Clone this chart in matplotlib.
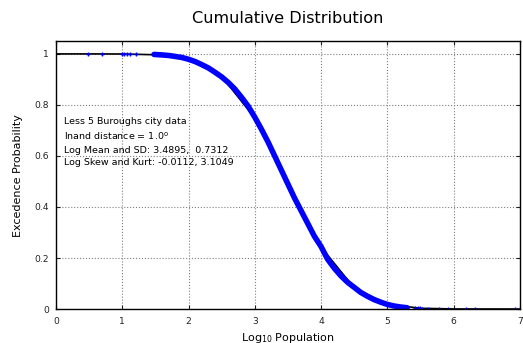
import matplotlib.pyplot as plt
from matplotlib.ticker import FuncFormatter

# empirical exceedance (read from picture)
# sparse points in the tails
tail_x = [0.48, 0.69, 0.99, 1.03, 1.07, 1.12, 1.21,
          5.42, 5.46, 5.49, 5.53, 5.61, 5.78, 5.91, 6.18, 6.33, 6.92]
tail_y = [1.0, 1.0, 1.0, 0.9995, 0.9995, 0.999, 0.999,
          0.003, 0.0028, 0.0025, 0.002, 0.0015, 0.001, 0.0008, 0.0005,
          0.0003, 0.0001]

# dense body
log_pop = [1.48, 1.6, 1.7, 1.8, 1.9, 2.0, 2.1, 2.2, 2.3, 2.4, 2.5, 2.6, 2.7,
           2.8, 2.9, 3.0, 3.1, 3.2, 3.3, 3.4, 3.5, 3.6, 3.7, 3.8, 3.9, 4.0,
           4.1, 4.2, 4.3, 4.4, 4.5, 4.6, 4.7, 4.8, 4.9, 5.0, 5.1, 5.2, 5.3]
exceed = [0.998, 0.996, 0.994, 0.99, 0.986, 0.979, 0.97, 0.958, 0.945, 0.928,
          0.91, 0.888, 0.862, 0.83, 0.795, 0.752, 0.705, 0.655, 0.6, 0.545,
          0.49, 0.435, 0.385, 0.335, 0.285, 0.245, 0.195, 0.16, 0.13, 0.105,
          0.085, 0.065, 0.05, 0.037, 0.027, 0.018, 0.012, 0.008, 0.005]

# fitted curve
fit_x = [0.0, 0.5, 1.0, 1.5, 2.0, 2.5, 3.0, 3.5, 4.0, 4.5, 5.0, 5.5, 6.0, 7.0]
fit_y = [1.0, 1.0, 0.9997, 0.9967, 0.979, 0.912, 0.749, 0.495, 0.243, 0.083,
         0.019, 0.003, 0.0003, 0.0]

mean_sd = (3.4895, 0.7312)
skew_kurt = (-0.0112, 3.1049)

fig = plt.figure(figsize=(5.23, 3.43), dpi=100)
ax = fig.add_axes([0.107, 0.099, 0.887, 0.781])

ax.plot(fit_x, fit_y, color='black', linewidth=1.2)
ax.plot(log_pop, exceed, color='blue', linewidth=4, solid_capstyle='round')
ax.plot(tail_x, tail_y, '+', color='blue', markersize=3.5, markeredgewidth=1)

ax.set_xlim(0, 7)
ax.set_ylim(0, 1.05)
ax.set_xticks(range(8))
ax.set_yticks([0, 0.2, 0.4, 0.6, 0.8, 1])
ax.yaxis.set_major_formatter(FuncFormatter(lambda v, p: '%g' % v))
ax.tick_params(direction='in', top=True, right=True, labelsize=6.6, length=3,
               colors='#222222', pad=5)
ax.tick_params(axis='x', pad=6)
ax.grid(color='gray', linestyle=':', linewidth=0.8)
for s in ax.spines.values():
    s.set_linewidth(1.0)

ax.set_xlabel('Log$_{10}$ Population', fontsize=8, labelpad=3)
ax.set_ylabel('Excedence Probability', fontsize=8, labelpad=8)
ax.set_title('Cumulative Distribution', fontsize=11.6, pad=13)

txt = ('Less 5 Buroughs city data\n'
       'Inand distance = 1.0$^{\\rm o}$\n'
       'Log Mean and SD: %.4f,  %.4f\n'
       'Log Skew and Kurt: %.4f, %.4f' % (mean_sd + skew_kurt))
ax.text(0.12, 0.752, txt, fontsize=6.8, va='top', ha='left', linespacing=1.45)

fig.savefig('out.png', dpi=100)
